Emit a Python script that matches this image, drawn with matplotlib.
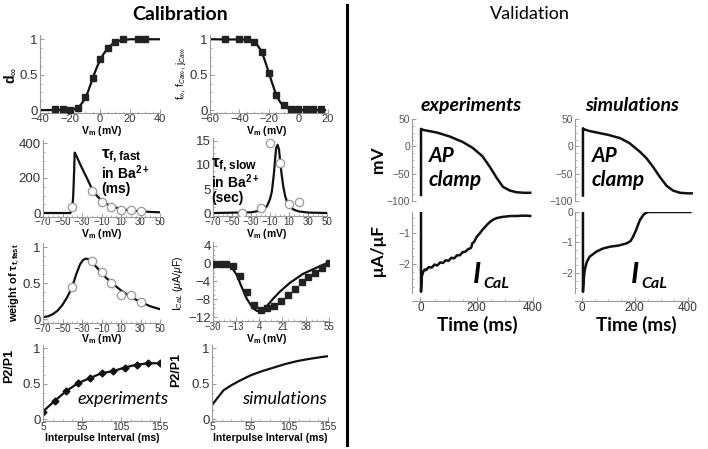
import numpy as np
import matplotlib.pyplot as plt
from matplotlib.ticker import AutoMinorLocator

plt.rcParams['font.family'] = ['Liberation Sans', 'DejaVu Sans']
plt.rcParams['mathtext.fontset'] = 'custom'
plt.rcParams['mathtext.rm'] = 'Liberation Sans'
plt.rcParams['mathtext.it'] = 'Liberation Sans:italic'
plt.rcParams['mathtext.bf'] = 'Liberation Sans:bold'

##- data -##
# d_inf activation
d_v = [-30, -25, -20, -15, -10, -5, 0, 5, 10, 15, 25, 30]
d_exp = [0.01, 0.01, 0, 0.03, 0.18, 0.46, 0.72, 0.87, 0.96, 1.0, 1.0, 1.0]
d_fit_v = [-40, -20, -16, -13, -10, -8, -6, -4, -2, 0, 2, 4, 6, 8, 10, 13, 16, 20, 40]
d_fit = [0, 0.005, 0.02, 0.07, 0.16, 0.26, 0.38, 0.5, 0.61, 0.7, 0.78, 0.84, 0.89, 0.93, 0.96, 0.98, 0.99, 1, 1]

# f_inf inactivation
f_v = [-50, -40, -35, -30, -25, -20, -15, -10, -5, 0, 5, 10, 15]
f_exp = [1.0, 1.0, 1.0, 0.96, 0.82, 0.52, 0.22, 0.07, 0.02, 0.01, 0.01, 0.01, 0.01]
f_fit_v = [-60, -35, -32, -30, -28, -26, -24, -22, -20, -18, -16, -14, -12, -10, -7, -4, 0, 18]
f_fit = [1, 0.995, 0.98, 0.96, 0.92, 0.86, 0.77, 0.65, 0.52, 0.39, 0.27, 0.17, 0.1, 0.06, 0.025, 0.01, 0, 0]

# tau f fast
tf_v = [-40, -20, -10, 0, 10, 20, 30]
tf_exp = [32, 124, 63, 32, 19, 15, 11]
tf_fit_v = [-70, -42, -40, -39, -38, -37.5, -36, -34, -32, -29, -25, -20, -15, -10, -5, 0, 10, 20, 30, 40, 50]
tf_fit = [0, 0, 20, 100, 250, 345, 330, 305, 280, 245, 200, 140, 100, 72, 52, 40, 22, 14, 10, 6, 4]

# tau f slow
ts_v = [-40, -20, -10, 0, 10, 20]
ts_exp = [0.1, 1.0, 14.6, 10.5, 1.9, 2.4]
ts_fit_v = [-70, -30, -20, -16, -13, -10, -8, -6, -4.5, -3.5, -2, -0.5, 0.5, 2, 4, 6, 8, 11, 15, 20, 30, 50]
ts_fit = [0, 0.15, 0.5, 0.9, 1.5, 2.9, 4.5, 8, 11.5, 13.5, 14.2, 13.2, 11.2, 8.4, 5.5, 3.5, 2.3, 1.3, 0.7, 0.35, 0.1, 0]

# weight of tau f fast
w_v = [-40, -20, -10, 0, 10, 20, 30]
w_exp = [0.45, 0.80, 0.66, 0.50, 0.33, 0.34, 0.24]
w_fit_v = [-70, -65, -60, -55, -50, -45, -40, -36, -32, -29, -26, -23, -20, -15, -10, -5, 0, 10, 20, 30, 40, 50]
w_fit = [0.03, 0.04, 0.07, 0.12, 0.2, 0.31, 0.45, 0.62, 0.76, 0.82, 0.84, 0.83, 0.79, 0.72, 0.64, 0.57, 0.51, 0.4, 0.31, 0.24, 0.18, 0.14]

# I-V relation
iv_v = [-30, -25, -20, -15, -10, -5, 0, 5, 10, 15, 20, 25, 30, 35, 40, 45, 50, 55]
iv_exp = [0, 0, 0, -0.5, -2.7, -6.4, -9.2, -10.3, -10.0, -9.4, -8.3, -7.1, -5.6, -4.2, -3.1, -2.0, -0.9, 0.2]
iv_fit_v = [-30, -20, -16, -12.5, -9, -5, -0.5, 2.5, 5.7, 9.3, 14, 19, 26, 36, 46, 55]
iv_fit = [0, -0.1, -0.9, -2.5, -5.1, -7.9, -10.0, -10.6, -10.6, -9.6, -7.9, -6.3, -4.4, -2.3, -0.9, 0.3]

# recovery P2/P1
p_int = [5, 20, 35, 50, 65, 80, 95, 110, 125, 140, 155]
p_exp = [0.11, 0.26, 0.40, 0.51, 0.58, 0.65, 0.68, 0.73, 0.77, 0.79, 0.79]
p_sim_int = [5, 12, 20, 30, 40, 55, 70, 85, 100, 115, 130, 145, 155]
p_sim = [0.20, 0.30, 0.41, 0.48, 0.54, 0.62, 0.68, 0.73, 0.78, 0.82, 0.85, 0.875, 0.89]

# AP clamp traces
ap_exp_t = [2, 2, 10, 30, 60, 104, 150, 186, 220, 246, 270, 293, 318, 342, 370, 390]
ap_exp = [-89, 32, 30, 28, 25, 18, 8, -3, -18, -37, -57, -74, -81, -84, -85, -85]
ap_sim_t = [5, 5, 10, 30, 60, 100, 145, 180, 220, 245, 270, 295, 320, 345, 371, 400, 415]
ap_sim = [-90, 33, 31, 28, 25, 21, 15, 6, -10, -22, -38, -56, -72, -81, -85, -86, -86]

# ICaL traces
icl_exp_t = [2, 2, 5, 10, 15, 20, 30, 40, 50, 60, 70, 80, 90, 100, 110, 120, 130, 140, 150, 160,
             170, 180, 185, 190, 200, 210, 220, 230, 240, 250, 260, 270, 280, 290, 300, 320, 340, 360, 380, 390]
icl_exp = [-0.32, -2.9, -2.4, -2.25, -2.18, -2.2, -2.1, -2.12, -2.02, -2.05, -1.95, -1.97, -1.88, -1.9, -1.8, -1.82,
           -1.72, -1.72, -1.62, -1.6, -1.52, -1.48, -1.32, -1.3, -1.12, -1.02, -0.9, -0.8, -0.7, -0.62, -0.56, -0.52,
           -0.5, -0.48, -0.47, -0.45, -0.45, -0.44, -0.44, -0.45]
icl_sim_t = [5, 5, 8, 12, 19, 30, 56, 80, 107, 140, 170, 185, 194, 205, 220, 235, 250, 410]
icl_sim = [0, -2.62, -2.2, -1.9, -1.65, -1.47, -1.3, -1.2, -1.14, -1.1, -1.03, -0.95, -0.81, -0.6, -0.26, -0.07, 0, 0]

##- figure -##
W, H = 708, 449
fig = plt.figure(figsize=(W / 100, H / 100), dpi=100)
SP = '#9a9a9a'
TK = '#333333'
CAL = ['Lato', 'DejaVu Sans']


def add_ax(l, t, r, b):
    return fig.add_axes([l / W, 1 - b / H, (r - l) / W, (b - t) / H])


def style(ax, xt, yt, ytl=None, xfs=7, yfs=9.5, nminor=4):
    for s in ['top', 'right']:
        ax.spines[s].set_visible(False)
    for s in ['left', 'bottom']:
        ax.spines[s].set_color(SP)
        ax.spines[s].set_linewidth(0.8)
    ax.set_xticks(xt)
    ax.set_yticks(yt)
    if ytl is not None:
        ax.set_yticklabels(ytl)
    ax.xaxis.set_minor_locator(AutoMinorLocator(nminor))
    ax.yaxis.set_minor_locator(AutoMinorLocator(nminor))
    ax.tick_params(which='both', direction='in', color=SP, labelcolor=TK)
    ax.tick_params(which='major', length=3, width=0.7)
    ax.tick_params(which='minor', length=1.5, width=0.5)
    ax.tick_params(axis='x', labelsize=xfs, pad=0.5)
    ax.tick_params(axis='y', labelsize=yfs, pad=1.5)
    ax.patch.set_alpha(0)


def ftext(x, y, s, **kw):
    fig.text(x / W, 1 - y / H, s, ha=kw.pop('ha', 'center'), va=kw.pop('va', 'center'), **kw)


sq = dict(marker='s', ms=4, color='#222222', ls='none', zorder=3)
oc = dict(marker='o', ms=6, mfc='white', mec='#9a9a9a', mew=0.9, ls='none', zorder=3)
fit = dict(color='#111111', lw=1.6)
xv = [-70, -50, -30, -10, 10, 30, 50]

# row 1
ax = add_ax(40, 35, 160, 113)
ax.plot(d_fit_v, d_fit, **fit)
ax.plot(d_v, d_exp, **sq)
ax.set_xlim(-40, 40); ax.set_ylim(-0.04, 1.06)
style(ax, [-40, -20, 0, 20, 40], [0, 0.5, 1], ['0', '0.5', '1'], xfs=8)

ax = add_ax(210, 35, 328, 113)
ax.plot(f_fit_v, f_fit, **fit)
ax.plot(f_v, f_exp, **sq)
ax.set_xlim(-60, 20); ax.set_ylim(-0.04, 1.06)
style(ax, [-60, -40, -20, 0, 20], [0, 0.5, 1], ['0', '0.5', '1'], xfs=8)

# row 2
ax = add_ax(43, 139.5, 160, 216.5)
ax.plot(tf_fit_v, tf_fit, **fit)
ax.plot(tf_v, tf_exp, **oc)
ax.set_xlim(-70, 50); ax.set_ylim(-20, 420)
style(ax, xv, [0, 200, 400])

ax = add_ax(213, 137.6, 327, 216.4)
ax.plot(ts_fit_v, ts_fit, **fit)
ax.plot(ts_v, ts_exp, **oc)
ax.set_xlim(-70, 50); ax.set_ylim(-0.7, 15.7)
style(ax, xv, [0, 5, 10, 15])

# row 3
ax = add_ax(43, 243.4, 160, 322.9)
ax.plot(w_fit_v, w_fit, **fit)
ax.plot(w_v, w_exp, **oc)
ax.set_xlim(-70, 50); ax.set_ylim(-0.05, 1.05)
style(ax, xv, [0, 0.5, 1], ['0', '0.5', '1'])

ax = add_ax(212.7, 242.1, 329, 320.9)
ax.plot(iv_fit_v, iv_fit, **fit)
ax.plot(iv_v, iv_exp, **sq)
ax.set_xlim(-30, 55); ax.set_ylim(-12.8, 4.8)
style(ax, [-30, -13, 4, 21, 38, 55], [-12, -8, -4, 0, 4])

# row 4
ax = add_ax(43, 344.8, 160, 421.1)
ax.plot(p_int, p_exp, color='#111111', lw=1.6, marker='D', ms=3.5)
ax.set_xlim(5, 155); ax.set_ylim(-0.025, 1.05)
style(ax, [5, 55, 105, 155], [0, 0.5, 1], ['0', '0.5', '1'], xfs=7.5)

ax = add_ax(212, 344.8, 328, 421.1)
ax.plot(p_sim_int, p_sim, **fit)
ax.set_xlim(5, 155); ax.set_ylim(-0.025, 1.05)
style(ax, [5, 55, 105, 155], [0, 0.5, 1], ['0', '0.5', '1'], xfs=7.5)

# validation panels
tr = dict(color='#111111', lw=1.8)
for l, r, xr, t_ap, v_ap, t_i, v_i, ylim_i, yt_i in [
        (412, 533, (-30, 400), ap_exp_t, ap_exp, icl_exp_t, icl_exp, (-2.94, -0.32), [-2, -1]),
        (575, 693, (-25, 420), ap_sim_t, ap_sim, icl_sim_t, icl_sim, (-2.66, 0), [-2, -1, 0])]:
    ax = add_ax(l, 119, r, 201)
    ax.plot(t_ap, v_ap, **tr)
    ax.set_xlim(*xr); ax.set_ylim(-100, 50)
    style(ax, [], [-100, -50, 0, 50], yfs=7.5)
    ax.spines['bottom'].set_visible(False)
    ax.tick_params(axis='x', which='both', bottom=False)
    ax.tick_params(axis='y', labelcolor='#555555')

    ax = add_ax(l, 212, r, 293)
    ax.plot(t_i, v_i, **tr)
    ax.set_xlim(*xr); ax.set_ylim(*ylim_i)
    style(ax, [0, 200, 400], yt_i, yfs=7.5, xfs=8.5)
    ax.spines['bottom'].set_position(('outward', 6))
    ax.tick_params(axis='y', labelcolor='#555555')

# divider
fig.add_artist(plt.Line2D([347 / W, 347 / W], [1 - 5 / H, 1 - 445 / H], color='black', lw=2.2))

# titles
ftext(180, 14, 'Calibration', fontsize=14, fontweight='bold', family=CAL)
ftext(530, 14, 'Validation', fontsize=13, family=CAL)

# left texts
ftext(10, 75, r'd$_\infty$', rotation=90, fontsize=10, fontweight='bold')
ftext(181, 73, r'f$_\infty$, f$_{Ca\infty}$, j$_{Ca\infty}$', rotation=90, fontsize=7)
for yl in (131, 234, 338.5):
    ftext(102, yl, r'$\mathbf{V_m}$ (mV)', fontsize=7.5, fontweight='bold')
    ftext(267, yl, r'$\mathbf{V_m}$ (mV)', fontsize=7.5, fontweight='bold')
ftext(101, 156, r'$\mathbf{\tau_{f,fast}}$', fontsize=12.5, ha='left')
ftext(101, 173, r'in Ba$^{\mathbf{2+}}$', fontsize=10, fontweight='bold', ha='left')
ftext(101, 189, '(ms)', fontsize=10, fontweight='bold', ha='left')
ftext(211, 165, r'$\mathbf{\tau_{f,slow}}$', fontsize=12.5, ha='left')
ftext(211, 182, r'in Ba$^{\mathbf{2+}}$', fontsize=10, fontweight='bold', ha='left')
ftext(211, 198, '(sec)', fontsize=10, fontweight='bold', ha='left')
ftext(15, 283, r'weight of $\mathbf{\tau_{f,fast}}$', rotation=90, fontsize=8, fontweight='bold')
ftext(178, 283, r'I$_{CaL}$ ($\mu$A/$\mu$F)', rotation=90, fontsize=7.5)
ftext(9, 366, 'P2/P1', rotation=90, fontsize=9, fontweight='bold')
ftext(176, 370, 'P2/P1', rotation=90, fontsize=9, fontweight='bold')
ftext(102, 438, 'Interpulse Interval (ms)', fontsize=7.5, fontweight='bold')
ftext(270, 438, 'Interpulse Interval (ms)', fontsize=7.5, fontweight='bold')
ftext(123, 399, 'experiments', fontsize=13, style='italic', family=CAL)
ftext(284, 399, 'simulations', fontsize=13, style='italic', family=CAL)

# right texts
ftext(471, 105, 'experiments', fontsize=14, style='italic', fontweight='bold', family=CAL)
ftext(632, 105, 'simulations', fontsize=14, style='italic', fontweight='bold', family=CAL)
ftext(378, 160, 'mV', rotation=90, fontsize=12.5, fontweight='bold', family=CAL)
ftext(378, 250, 'μA/μF', rotation=90, fontsize=12.5, fontweight='bold', family=CAL)
for x0 in (429, 592):
    ftext(x0, 156, 'AP', fontsize=15, style='italic', fontweight='bold', family=CAL, ha='left')
    ftext(x0, 180, 'clamp', fontsize=15, style='italic', fontweight='bold', family=CAL, ha='left')
ftext(473, 275, 'I', fontsize=21, style='italic', fontweight='bold', family=CAL, ha='left')
ftext(483, 284, 'CaL', fontsize=11.5, style='italic', fontweight='bold', family=CAL, ha='left')
ftext(631, 275, 'I', fontsize=21, style='italic', fontweight='bold', family=CAL, ha='left')
ftext(641, 284, 'CaL', fontsize=11.5, style='italic', fontweight='bold', family=CAL, ha='left')
ftext(477, 325, 'Time (ms)', fontsize=13.5, fontweight='bold', family=CAL)
ftext(636, 325, 'Time (ms)', fontsize=13.5, fontweight='bold', family=CAL)

fig.savefig('out.png', dpi=100)
